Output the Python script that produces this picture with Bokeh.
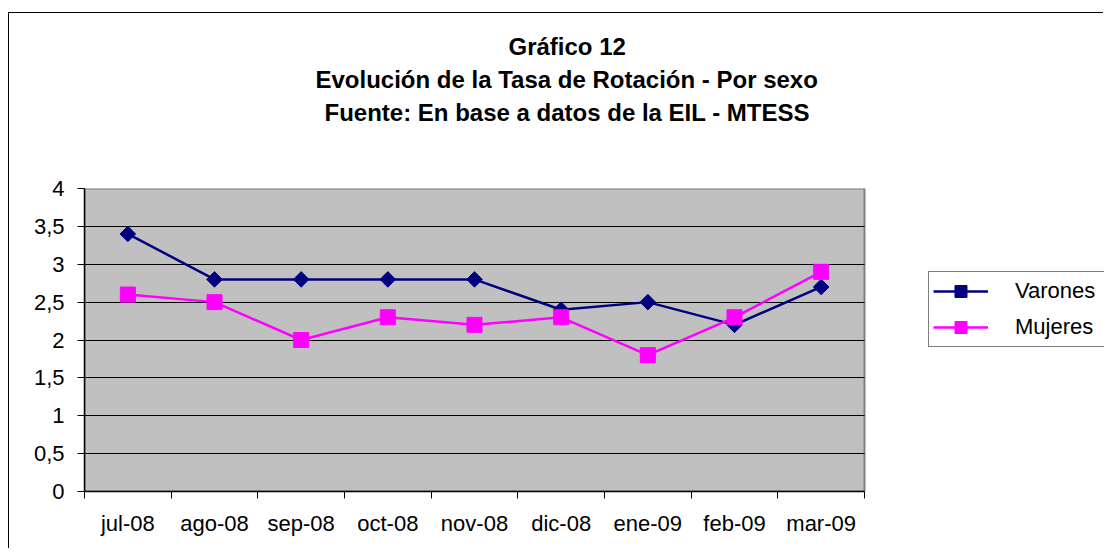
from bokeh.plotting import figure
from bokeh.models import (Range1d, FixedTicker, CustomJSTickFormatter, Legend,
                          LegendItem, Title, BoxAnnotation)
from bokeh.embed import file_html
from bokeh.resources import INLINE

# ---- data ----
months = ["jul-08", "ago-08", "sep-08", "oct-08", "nov-08",
          "dic-08", "ene-09", "feb-09", "mar-09"]
varones = [3.4, 2.8, 2.8, 2.8, 2.8, 2.4, 2.5, 2.2, 2.7]
mujeres = [2.6, 2.5, 2.0, 2.3, 2.2, 2.3, 1.8, 2.3, 2.9]
y_ticks = [0, 0.5, 1, 1.5, 2, 2.5, 3, 3.5, 4]
title_lines = ["Gráfico 12",
               "Evolución de la Tasa de Rotación - Por sexo",
               "Fuente: En base a datos de la EIL - MTESS"]
series_names = ["Varones", "Mujeres"]

FONT = "Liberation Sans"
n = len(months)
x = list(range(n))
x_lo, x_hi = -0.5, n - 0.5
# the frame runs on to the right edge (room for the legend); the grey plot
# area covers only the categories
x_end = x_lo + n * 1020 / 780

p = figure(width=1095, height=536,
           x_range=Range1d(x_lo, x_end),
           y_range=Range1d(y_ticks[0], y_ticks[-1]),
           output_backend="svg", toolbar_location=None,
           min_border_left=75, min_border_right=0,
           min_border_top=175, min_border_bottom=58,
           background_fill_color="white", border_fill_color="white",
           margin=(13, 0, 0, 9),
           styles={"box-shadow": "-1px -1px 0 0 #000000"})
p.title.text = ""
p.title.standoff = 0
p.title.text_font_size = "1px"
p.outline_line_color = None

# grey plot area
p.add_layout(BoxAnnotation(left=x_lo, right=x_hi, bottom=y_ticks[0], top=y_ticks[-1],
                           fill_color="#C0C0C0", fill_alpha=1,
                           line_color="#808080", line_width=2, line_alpha=1,
                           level="image"))

# grid
p.xgrid.visible = False
g = p.ygrid[0]
g.ticker = FixedTicker(ticks=y_ticks[1:-1])
g.grid_line_color = "black"
g.grid_line_width = 1
if "cross_bounds" in g.properties():
    g.cross_bounds = (x_lo, x_hi)
else:
    g.visible = False
    gy = y_ticks[1:-1]
    p.segment(x0=[x_lo] * len(gy), x1=[x_hi] * len(gy), y0=gy, y1=gy,
              line_color="black", line_width=1, level="underlay")

# x axis: labels at category centres, tick marks at boundaries
xa = p.xaxis[0]
xa.bounds = (x_lo, x_hi)
xa.ticker = FixedTicker(ticks=x, minor_ticks=[i - 0.5 for i in range(n + 1)])
xa.formatter = CustomJSTickFormatter(args=dict(labels=months),
                                     code="const i = Math.round(tick); return labels[i] ?? '';")
xa.major_tick_in = 0
xa.major_tick_out = 0
xa.minor_tick_in = 0
xa.minor_tick_out = 7
xa.minor_tick_line_color = "black"
xa.axis_line_color = "black"
xa.axis_line_width = 1.5
xa.major_label_standoff = 12
xa.major_label_text_font = FONT
xa.major_label_text_font_size = "22px"
xa.major_label_text_color = "black"

# y axis
ya = p.yaxis[0]
ya.ticker = FixedTicker(ticks=y_ticks)
ya.formatter = CustomJSTickFormatter(code="return String(tick).replace('.', ',');")
ya.major_tick_in = 0
ya.major_tick_out = 7
ya.minor_tick_line_color = None
ya.axis_line_color = "black"
ya.axis_line_width = 1.5
ya.major_label_standoff = 13
ya.major_label_text_font = FONT
ya.major_label_text_font_size = "22px"
ya.major_label_text_color = "black"

# series
l1 = p.line(x, varones, line_color="#000080", line_width=2.5)
s1 = p.scatter(x, varones, marker="square", angle=0.785398, size=11,
               fill_color="#000080", line_color="#000080")
l2 = p.line(x, mujeres, line_color="#FF00FF", line_width=2.5)
s2 = p.scatter(x, mujeres, marker="square", size=15,
               fill_color="#FF00FF", line_color="#FF00FF")

# title: a spacer next to the plot area, then the lines outwards
p.add_layout(Title(text=" ", standoff=58, text_font_size="1px"), "above")
title_offsets = [424, 231, 240]
for txt, off in reversed(list(zip(title_lines, title_offsets))):
    p.add_layout(Title(text=txt, align="left", offset=off, standoff=4,
                       text_font=FONT, text_font_style="bold",
                       text_font_size="24px", text_color="black"), "above")

legend = Legend(items=[LegendItem(label=series_names[0], renderers=[l1, s1]),
                       LegendItem(label=series_names[1], renderers=[l2, s2])],
                location=(844, 144),
                border_line_color="black", border_line_width=1,
                background_fill_color="white", background_fill_alpha=1,
                label_text_font=FONT, label_text_font_size="22px",
                label_text_color="black",
                glyph_width=55, glyph_height=30, label_height=30,
                label_width=200,
                label_standoff=27, spacing=6, padding=4, margin=0)
p.add_layout(legend, "center")

open("out.html", "w").write(file_html(p, INLINE))
